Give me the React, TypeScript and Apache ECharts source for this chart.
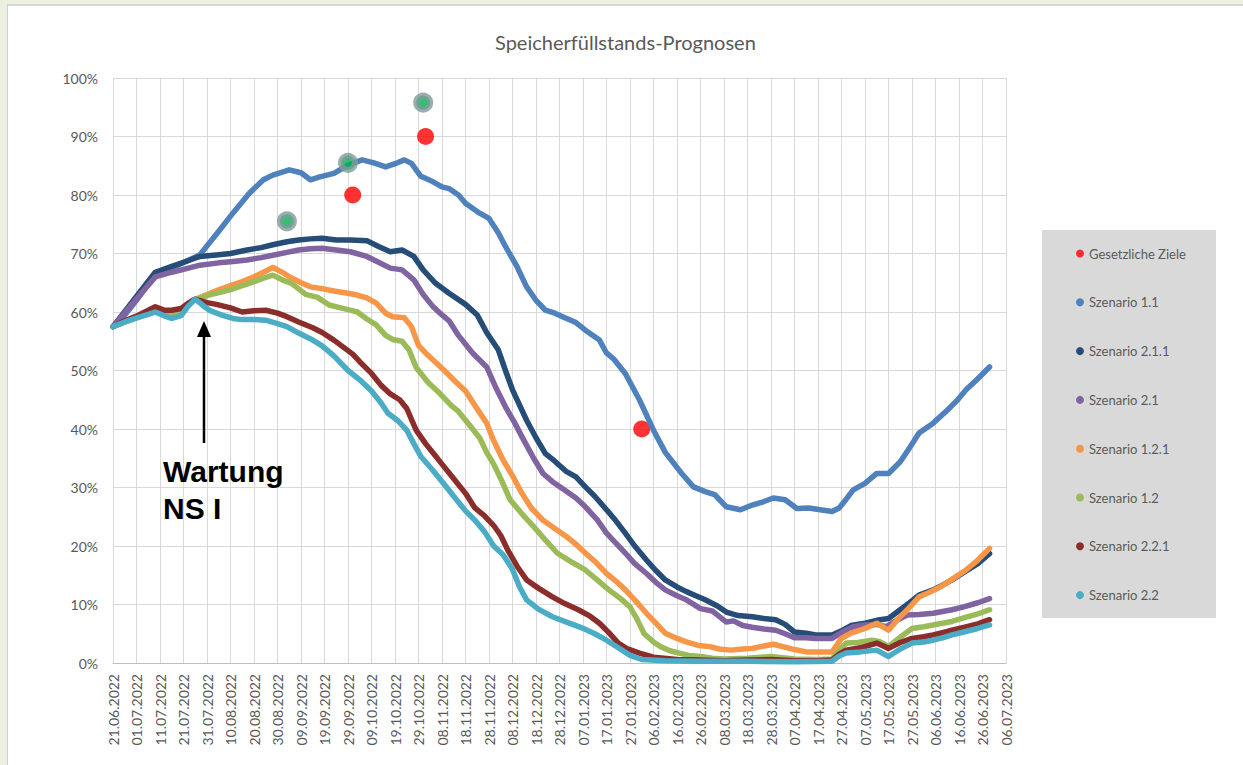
import React, { useEffect, useRef } from "react";
import * as echarts from "echarts";

const chartTitle = "Speicherfüllstands-Prognosen";

// x: days since 21.06.2022, y: storage level in %
const xTickLabels = [
  "21.06.2022", "01.07.2022", "11.07.2022", "21.07.2022", "31.07.2022", "10.08.2022", "20.08.2022",
  "30.08.2022", "09.09.2022", "19.09.2022", "29.09.2022", "09.10.2022", "19.10.2022", "29.10.2022",
  "08.11.2022", "18.11.2022", "28.11.2022", "08.12.2022", "18.12.2022", "28.12.2022", "07.01.2023",
  "17.01.2023", "27.01.2023", "06.02.2023", "16.02.2023", "26.02.2023", "08.03.2023", "18.03.2023",
  "28.03.2023", "07.04.2023", "17.04.2023", "27.04.2023", "07.05.2023", "17.05.2023", "27.05.2023",
  "06.06.2023", "16.06.2023", "26.06.2023", "06.07.2023",
];

const seriesNames = [
  "Gesetzliche Ziele", "Szenario 1.1", "Szenario 2.1.1", "Szenario 2.1",
  "Szenario 1.2.1", "Szenario 1.2", "Szenario 2.2.1", "Szenario 2.2",
];

const gesetzlicheZiele = [[102, 80], [133, 90], [225, 40]];
const verordnungsZiele = [[74, 75.5], [100, 85.5], [132, 95.8]];

const szenario11 = [
  [0, 57.5], [5, 59.5], [10, 62], [18, 66.5], [25, 67.5], [32, 68.8], [37, 69.8], [45, 73.8], [51, 76.9],
  [58, 80.3], [64, 82.6], [68, 83.4], [75, 84.3], [80, 83.8], [84, 82.6], [88, 83.1], [94, 83.7],
  [100, 85.1], [106, 86], [111, 85.5], [116, 84.8], [121, 85.5], [124, 86], [127, 85.4], [131, 83.2],
  [136, 82.3], [140, 81.4], [143, 81.1], [147, 80], [150, 78.6], [156, 76.9], [160, 76], [164, 73.5],
  [167, 71.2], [172, 67.7], [176, 64.3], [180, 62], [184, 60.3], [188, 59.8], [193, 58.9], [197, 58.2],
  [201, 56.9], [207, 55.2], [210, 53], [213, 52], [218, 49.5], [224, 45], [230, 39.8], [235, 36],
  [242, 32.4], [247, 30.1], [252, 29.3], [256, 28.8], [261, 26.7], [267, 26.2], [272, 27], [277, 27.6],
  [281, 28.2], [286, 27.9], [291, 26.4], [296, 26.5], [301, 26.2], [306, 25.9], [309, 26.5], [312, 28],
  [315, 29.6], [320, 30.7], [325, 32.4], [330, 32.4], [335, 34.4], [339, 36.8], [343, 39.3], [349, 41],
  [355, 43.2], [359, 44.8], [363, 46.7], [368, 48.6], [373, 50.6],
];

const szenario211 = [
  [0, 57.5], [18, 66.8], [25, 67.8], [30, 68.5], [37, 69.5], [45, 69.8], [50, 70], [57, 70.6], [63, 71],
  [68, 71.5], [74, 72], [79, 72.3], [84, 72.5], [89, 72.6], [95, 72.3], [101, 72.3], [108, 72.2],
  [113, 71.2], [118, 70.3], [123, 70.6], [128, 69.5], [132, 67.2], [137, 65], [143, 63.2], [150, 61.3],
  [155, 59.5], [159, 56.5], [164, 53.5], [167, 50], [170, 46.7], [176, 41.5], [180, 38.5], [184, 35.8],
  [188, 34.5], [193, 32.7], [197, 31.8], [201, 30.1], [205, 28.5], [210, 26.2], [214, 24.3], [218, 22.2],
  [222, 20], [227, 17.6], [231, 15.8], [235, 14.2], [240, 13], [244, 12.2], [248, 11.5], [252, 10.8],
  [257, 9.8], [261, 8.7], [266, 8.1], [272, 7.9], [277, 7.6], [282, 7.4], [286, 6.6], [290, 5.3],
  [295, 5.1], [299, 4.8], [306, 4.8], [310, 5.5], [314, 6.4], [320, 6.8], [325, 7.3], [330, 7.6],
  [335, 9.1], [339, 10.3], [343, 11.6], [349, 12.5], [353, 13.3], [357, 14.2], [362, 15.5], [368, 17],
  [373, 18.7],
];

const szenario21 = [
  [0, 57.5], [18, 66], [25, 66.8], [30, 67.3], [37, 68], [45, 68.4], [50, 68.6], [57, 68.9], [63, 69.3],
  [68, 69.7], [74, 70.2], [79, 70.6], [84, 70.8], [89, 70.9], [95, 70.6], [101, 70.3], [108, 69.5],
  [113, 68.5], [118, 67.5], [123, 67.2], [128, 65.5], [132, 63], [136, 61], [140, 59.5], [143, 58.5],
  [147, 56], [153, 53], [159, 50.6], [163, 47], [167, 43.8], [171, 41], [174, 38.7], [179, 35],
  [183, 32.4], [187, 31], [192, 29.6], [197, 28.2], [201, 26.7], [206, 24.5], [210, 22.2], [214, 20.5],
  [218, 18.8], [222, 17], [227, 15.3], [231, 13.8], [235, 12.5], [240, 11.5], [244, 10.8], [250, 9.3],
  [255, 8.9], [261, 7], [264, 7.2], [268, 6.4], [272, 6.1], [277, 5.8], [282, 5.6], [286, 5], [290, 4.3],
  [295, 4.3], [299, 4.2], [306, 4.2], [310, 5.2], [315, 6.2], [320, 6.5], [325, 6.6], [329, 6.2],
  [333, 7.2], [338, 8.2], [343, 8.3], [349, 8.5], [353, 8.8], [357, 9.1], [362, 9.6], [368, 10.3],
  [373, 11],
];

const szenario121 = [
  [0, 57.5], [5, 58.3], [10, 59], [15, 59.8], [18, 60.3], [21, 60], [25, 59.4], [29, 60], [32, 61.2],
  [34, 62], [40, 63], [45, 63.8], [50, 64.5], [55, 65.2], [60, 66], [64, 66.8], [68, 67.6], [72, 66.8],
  [76, 65.8], [80, 65], [84, 64.3], [89, 64], [94, 63.6], [100, 63.2], [104, 62.9], [108, 62.4],
  [112, 61.5], [116, 59.8], [119, 59.2], [124, 59], [127, 57.5], [130, 54.3], [133, 53], [137, 51.5],
  [141, 50], [146, 48], [150, 46.5], [154, 44], [159, 41], [162, 38], [166, 34.7], [170, 32], [174, 29],
  [178, 26.5], [183, 24.4], [188, 23], [193, 21.6], [197, 20.3], [201, 18.8], [206, 17], [210, 15.3],
  [214, 14], [218, 12.5], [222, 10.8], [227, 8.5], [231, 6.8], [235, 5.1], [240, 4.2], [244, 3.6],
  [249, 3], [254, 2.8], [258, 2.4], [263, 2.2], [268, 2.4], [272, 2.5], [277, 2.9], [281, 3.2],
  [285, 2.8], [290, 2.3], [295, 1.9], [300, 1.9], [306, 1.9], [310, 4.2], [314, 5.1], [320, 5.9],
  [325, 6.8], [330, 5.6], [334, 7.5], [338, 9.1], [343, 11.3], [347, 12], [352, 13], [357, 14.3],
  [363, 15.9], [368, 17.6], [373, 19.6],
];

const szenario12 = [
  [0, 57.5], [5, 58.3], [10, 59], [15, 59.8], [18, 60.3], [21, 60], [25, 59.4], [29, 60], [32, 61.2],
  [34, 62], [40, 62.8], [45, 63.3], [50, 63.8], [55, 64.5], [60, 65.2], [64, 65.8], [68, 66.3],
  [72, 65.5], [76, 64.9], [82, 63], [87, 62.5], [92, 61.2], [96, 60.8], [100, 60.4], [104, 60],
  [108, 58.8], [112, 57.8], [116, 56], [119, 55.3], [123, 55], [126, 53.5], [129, 50.5], [134, 48],
  [139, 46.1], [144, 44], [147, 43], [152, 40.5], [156, 38.5], [159, 36], [162, 34], [165, 31.5],
  [169, 27.9], [174, 25.5], [179, 23.3], [184, 21], [189, 18.8], [195, 17.3], [201, 15.9], [206, 14.2],
  [211, 12.5], [216, 11], [220, 9.6], [223, 7.5], [226, 5], [230, 3.6], [233, 2.8], [237, 2.1],
  [241, 1.7], [245, 1.3], [250, 1.1], [255, 0.8], [260, 0.7], [270, 0.8], [280, 1.1], [285, 0.9],
  [290, 0.7], [300, 0.6], [306, 0.7], [309, 2.2], [312, 3.4], [317, 3.5], [323, 3.9], [326, 3.7],
  [330, 2.8], [335, 4.4], [340, 5.9], [345, 6.2], [349, 6.5], [353, 6.8], [357, 7.1], [362, 7.7],
  [368, 8.4], [373, 9.1],
];

const szenario221 = [
  [0, 57.5], [5, 58.5], [10, 59.3], [15, 60.3], [18, 60.9], [22, 60.3], [25, 60.3], [29, 60.6],
  [32, 61.5], [35, 62.2], [40, 61.6], [44, 61.3], [50, 60.7], [55, 60], [60, 60.2], [65, 60.3],
  [70, 59.8], [74, 59.2], [79, 58.3], [85, 57.3], [89, 56.5], [94, 55.2], [98, 54], [102, 52.8],
  [105, 51.5], [110, 49.5], [114, 47.5], [118, 46], [122, 45], [125, 43.5], [129, 39.8], [133, 37.5],
  [137, 35.5], [140, 34], [145, 31.5], [150, 29], [154, 26.5], [158, 25.2], [162, 23.5], [165, 21.8],
  [168, 19.3], [172, 16.5], [176, 14.2], [181, 12.8], [187, 11.3], [192, 10.2], [198, 9.1], [203, 8],
  [207, 6.8], [211, 5.2], [215, 3.4], [219, 2.4], [224, 1.7], [230, 1], [240, 0.6], [250, 0.5],
  [260, 0.4], [270, 0.5], [280, 0.6], [290, 0.4], [300, 0.4], [306, 0.5], [309, 1.5], [312, 2.2],
  [318, 2.6], [325, 3.4], [330, 2.5], [335, 3.5], [340, 4.2], [345, 4.5], [349, 4.8], [353, 5.2],
  [357, 5.6], [362, 6.1], [368, 6.7], [373, 7.4],
];

const szenario22 = [
  [0, 57.5], [5, 58.3], [10, 59], [15, 59.6], [18, 60], [22, 59.3], [25, 58.9], [29, 59.4], [32, 61],
  [35, 62.2], [38, 61.2], [41, 60.3], [46, 59.5], [51, 58.9], [55, 58.7], [60, 58.7], [65, 58.6],
  [70, 58], [74, 57.5], [79, 56.4], [85, 55.2], [89, 54.2], [94, 52.5], [100, 50], [105, 48.4],
  [110, 46.5], [114, 44.5], [117, 42.7], [121, 41.5], [125, 39.8], [128, 37.5], [131, 35.3], [136, 33],
  [141, 30.5], [145, 28.5], [150, 26], [154, 24.4], [158, 22.5], [162, 20], [166, 18.5], [170, 16],
  [173, 13], [176, 10.8], [181, 9.2], [187, 7.9], [193, 7], [199, 6.1], [205, 5], [210, 3.9],
  [215, 2.6], [220, 1.3], [225, 0.6], [235, 0.4], [250, 0.3], [270, 0.3], [290, 0.2], [306, 0.3],
  [309, 1.2], [312, 1.7], [318, 1.9], [325, 2.2], [330, 1.1], [335, 2.4], [340, 3.4], [345, 3.6],
  [349, 3.9], [353, 4.3], [357, 4.8], [362, 5.3], [368, 5.9], [373, 6.5],
];

const lineData = [szenario11, szenario211, szenario21, szenario121, szenario12, szenario221, szenario22];
const lineColors = ["#4f81bd", "#264d78", "#8064a2", "#f79646", "#9bbb59", "#8b2e2b", "#4bacc6"];

const FONT = "Lato, 'Open Sans', sans-serif";
const GREY = "#595959";

export default function App() {
  const ref = useRef<HTMLDivElement>(null);

  useEffect(() => {
    if (!ref.current) return;
    const chart = echarts.init(ref.current, undefined, { renderer: "svg" });

    const lines = lineData.map((d, i) => ({
      name: seriesNames[i + 1],
      type: "line",
      data: d,
      showSymbol: false,
      symbol: "circle",
      lineStyle: { width: 5.5, color: lineColors[i], join: "round", cap: "round" },
      itemStyle: { color: lineColors[i] },
      z: 3,
    }));

    chart.setOption({
      animation: false,
      backgroundColor: "transparent",
      title: {
        text: chartTitle,
        left: 490,
        top: 27,
        textStyle: { fontFamily: FONT, fontSize: 20, fontWeight: "normal", color: GREY },
      },
      grid: { left: 113, right: 237, top: 78, bottom: 102 },
      xAxis: {
        type: "value",
        min: 0,
        max: 380,
        interval: 10,
        axisLine: { show: true, lineStyle: { color: "#bfbfbf", width: 1 } },
        axisTick: { show: false },
        splitLine: { show: true, lineStyle: { color: "#d9d9d9", width: 1 } },
        axisLabel: {
          rotate: 90,
          margin: 11,
          fontFamily: FONT,
          fontSize: 14,
          color: GREY,
          formatter: (v: number) => xTickLabels[Math.round(v / 10)] ?? "",
        },
      },
      yAxis: {
        type: "value",
        min: 0,
        max: 100,
        interval: 10,
        axisLine: { show: false },
        axisTick: { show: false },
        splitLine: { show: true, lineStyle: { color: "#d9d9d9", width: 1 } },
        axisLabel: {
          margin: 15,
          fontFamily: FONT,
          fontSize: 14,
          color: GREY,
          formatter: "{value}%",
        },
      },
      legend: {
        data: seriesNames,
        orient: "vertical",
        left: 1071,
        top: 241.5,
        icon: "circle",
        itemWidth: 8,
        itemHeight: 8,
        itemGap: 34.8,
        z: 10,
        textStyle: { fontFamily: FONT, fontSize: 13, color: GREY, lineHeight: 14 },
      },
      graphic: [
        {
          type: "rect",
          z: 0,
          shape: { x: 1042, y: 230, width: 174, height: 388 },
          style: { fill: "#d9d9d9" },
        },
        {
          type: "line",
          z: 20,
          shape: { x1: 204, y1: 443, x2: 204, y2: 334 },
          style: { stroke: "#000", lineWidth: 2.5 },
        },
        {
          type: "polygon",
          z: 20,
          shape: { points: [[204, 321], [197, 337], [211, 337]] },
          style: { fill: "#000" },
        },
        {
          type: "text",
          z: 20,
          x: 163,
          y: 453,
          style: {
            text: "Wartung\nNS I",
            fill: "#000",
            font: "bold 30px 'Liberation Sans', Arial, sans-serif",
            lineHeight: 37,
          },
        },
      ],
      series: [
        {
          name: seriesNames[0],
          type: "scatter",
          data: gesetzlicheZiele,
          symbol: "circle",
          symbolSize: 17,
          itemStyle: { color: "#ff0000" },
          z: 2,
        },
        ...lines,
        {
          name: "Speicherziele",
          type: "scatter",
          data: verordnungsZiele,
          symbol: "circle",
          symbolSize: 14,
          itemStyle: { color: "#00b050", borderColor: "#7f9a9a", borderWidth: 6 },
          z: 5,
        },
      ],
    });

    return () => chart.dispose();
  }, []);

  return (
    <div style={{ position: "fixed", left: 0, top: 0, width: 1243, height: 765, background: "#ebf1de", overflow: "hidden" }}>
      <div
        style={{
          position: "absolute",
          left: 7,
          top: 4,
          right: 0,
          bottom: 0,
          background: "#fff",
          borderLeft: "1px solid #d0d0d0",
          borderTop: "2px solid #d6d6d6",
        }}
      />
      <div ref={ref} style={{ position: "absolute", left: 0, top: 0, width: 1243, height: 765 }} />
    </div>
  );
}
